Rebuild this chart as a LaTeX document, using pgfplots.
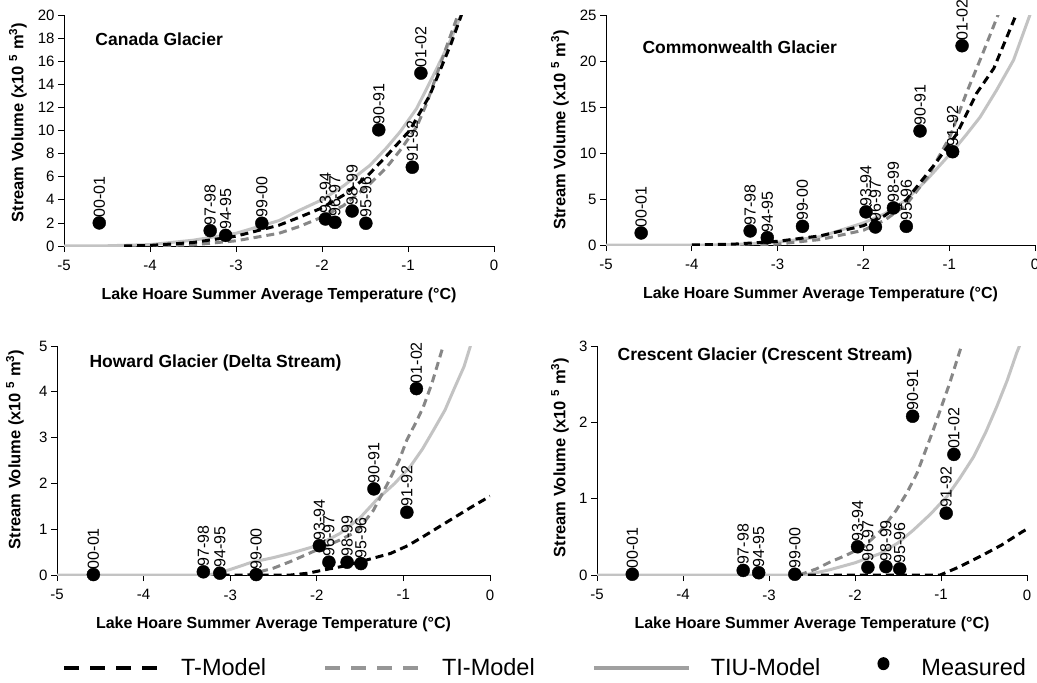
\documentclass[border=0pt]{standalone}
\usepackage{fontspec}
\setmainfont{Liberation Sans}
\usepackage{pgfplots}
\pgfplotsset{compat=1.18}

\definecolor{ticol}{RGB}{135,135,135}
\definecolor{tiucol}{RGB}{195,195,195}
\definecolor{legti}{RGB}{150,150,150}
\definecolor{legtiu}{RGB}{160,160,160}

\tikzset{gtitle/.style={anchor=west, font=\bfseries\fontsize{17.5bp}{20bp}\selectfont}}
\newcommand{\labfont}{\bfseries\fontsize{16bp}{18bp}\selectfont}
\newcommand{\ylabfont}{\bfseries\fontsize{16.5bp}{18bp}\selectfont}

\pgfplotsset{
 glacier/.style={
  scale only axis,
  axis x line*=bottom, axis y line*=left,
  axis line style={-, black, line width=0.8bp},
  xmin=-5, xmax=0, xtick={-5,-4,-3,-2,-1,0}, ymin=0,
  tick align=outside, major tick length=6bp,
  tick style={black, line width=0.8bp},
  /pgf/number format/assume math mode=true,
  ticklabel style={font=\fontsize{15bp}{17bp}\selectfont},
  xticklabel style={yshift=-5bp},
  xlabel={Lake Hoare Summer Average Temperature (°C)},
  ylabel={Stream Volume (x10 \textsuperscript{5} m\textsuperscript{3})},
  every axis x label/.style={at={(axis description cs:0.5,0)}, anchor=center, yshift=-49bp, font=\labfont},
  clip mode=individual,
 },
 ylab/.style 2 args={every axis y label/.style={at={(axis description cs:0,0.5)}, xshift=#1, yshift=#2, rotate=90, anchor=center, font=\ylabfont}},
 tmodel/.style={black, line width=3bp, dash pattern=on 8bp off 5bp},
 timodel/.style={ticol, line width=3bp, dash pattern=on 8bp off 5bp},
 tiumodel/.style={tiucol, line width=3bp},
 meas/.style={only marks, mark=*, mark size=6.5bp, black,
   nodes near coords, point meta=explicit symbolic,
   every node near coord/.append style={rotate=90, anchor=west, black,
     font=\fontsize{16bp}{18bp}\selectfont, inner sep=0.5bp, outer xsep=5bp}},
}

\begin{document}
\begin{tikzpicture}
\useasboundingbox (0bp,0bp) rectangle (1037bp,-683bp);

% ---------------- Canada Glacier ----------------
\begin{axis}[glacier, ylab={-46bp}{8bp},
  at={(64bp,-246bp)}, anchor=south west, width=430bp, height=231bp,
  ymax=20, ytick={0,2,...,20}]
\addplot[tiumodel] coordinates {(-5,0) (-4.5,0.02) (-4,0.12) (-3.5,0.5) (-3,1.1) (-2.5,2.2) (-2.26,3.1) (-2,4.0) (-1.75,5.2) (-1.44,7.0) (-1.25,8.5) (-1.09,9.9) (-0.9,11.9) (-0.71,14.7) (-0.5,17.9) (-0.36,20.4) (-0.25,22.5)};
\addplot[timodel] coordinates {(-4,0) (-3.5,0.1) (-3,0.45) (-2.5,1.1) (-2.26,1.7) (-2,2.5) (-1.75,3.5) (-1.44,5.4) (-1.25,6.8) (-1.09,8.3) (-0.9,10.3) (-0.78,12.4) (-0.55,17.3) (-0.4,20.4) (-0.3,23)};
\addplot[tmodel] coordinates {(-4.3,0) (-4,0.05) (-3.5,0.3) (-3,0.85) (-2.5,1.8) (-2.26,2.5) (-2,3.3) (-1.75,4.4) (-1.48,6.0) (-1.25,7.8) (-0.98,10.0) (-0.75,13.0) (-0.5,17.5) (-0.36,20.4) (-0.28,22.5)};
\addplot[meas] table[meta=lab] {
x y lab
-4.59 2.0 00-01
-3.30 1.33 97-98
-3.12 0.92 94-95
-2.70 1.97 99-00
-1.96 2.34 93-94
-1.85 2.05 96-97
-1.65 3.03 98-99
-1.49 1.97 95-96
-1.34 10.06 90-91
-0.95 6.82 91-92
-0.85 14.97 01-02
};
\node[gtitle] at (rel axis cs:0.065,0.896) {Canada Glacier};
\end{axis}

% ---------------- Commonwealth Glacier ----------------
\begin{axis}[glacier, ylab={-46bp}{0bp},
  at={(606bp,-245bp)}, anchor=south west, width=429bp, height=230bp,
  ymax=25, ytick={0,5,...,25}]
\addplot[tiumodel] coordinates {(-5,0) (-3.8,0) (-3.5,0.05) (-3,0.3) (-2.5,0.9) (-2.27,1.6) (-2,2.4) (-1.75,3.4) (-1.5,4.9) (-1.25,7.2) (-0.95,10.3) (-0.8,12.0) (-0.64,13.9) (-0.45,16.8) (-0.25,20.1) (-0.04,25.5)};
\addplot[timodel] coordinates {(-3.2,0) (-3,0.1) (-2.5,0.6) (-2,1.6) (-1.75,2.7) (-1.5,4.4) (-1.25,7.4) (-0.99,11.8) (-0.8,16.5) (-0.61,20.8) (-0.41,25.5)};
\addplot[tmodel] coordinates {(-4,0) (-3.5,0.1) (-3,0.4) (-2.5,1.0) (-2,2.1) (-1.75,3.2) (-1.5,4.9) (-1.38,6.3) (-1.15,9.0) (-0.91,12.1) (-0.68,16.5) (-0.48,19.2) (-0.27,23.9) (-0.2,25.5)};
\addplot[meas] table[meta=lab] {
x y lab
-4.59 1.31 00-01
-3.32 1.53 97-98
-3.12 0.80 94-95
-2.71 2.03 99-00
-1.97 3.60 93-94
-1.86 1.96 96-97
-1.65 4.03 98-99
-1.50 2.03 95-96
-1.34 12.4 90-91
-0.96 10.14 91-92
-0.85 21.66 01-02
};
\node[gtitle] at (rel axis cs:0.077,0.861) {Commonwealth Glacier};
\end{axis}

% ---------------- Howard Glacier ----------------
\begin{axis}[glacier, ylab={-42bp}{11bp},
  at={(57bp,-575bp)}, anchor=south west, width=433bp, height=229bp,
  ymax=5, ytick={0,1,...,5},
  legend columns=4,
  legend style={at={(axis description cs:0.0115,-0.402)}, anchor=west,
    draw=none, fill=none, inner sep=0pt, nodes={inner sep=0pt},
    font=\fontsize{23.5bp}{26bp}\selectfont,
    /tikz/every odd column/.append style={column sep=20bp},
    /tikz/every even column/.append style={column sep=57bp}},
  legend cell align=left]
\addlegendimage{legend image code/.code={\draw[black, line width=4bp, dash pattern=on 15bp off 11bp] (0bp,0bp) -- (95bp,0bp);}}
\addlegendentry{T-Model}
\addlegendimage{legend image code/.code={\draw[legti, line width=4bp, dash pattern=on 15bp off 11bp] (0bp,0bp) -- (95bp,0bp);}}
\addlegendentry{TI-Model}
\addlegendimage{legend image code/.code={\draw[legtiu, line width=4bp] (0bp,0bp) -- (95bp,0bp);}}
\addlegendentry{TIU-Model}
\addlegendimage{legend image code/.code={\path[draw=none] (0bp,0bp) -- (23bp,0bp); \fill[black, draw=none] (5bp,4bp) ellipse [x radius=6bp, y radius=6.5bp];}}
\addlegendentry{Measured}
\addplot[tiumodel, forget plot] coordinates {(-5,0) (-3.3,0) (-3.2,0.02) (-3,0.12) (-2.75,0.28) (-2.5,0.38) (-2.31,0.47) (-2,0.64) (-1.73,0.91) (-1.5,1.25) (-1.31,1.64) (-1.1,2.0) (-0.92,2.37) (-0.78,2.75) (-0.65,3.17) (-0.52,3.6) (-0.42,4.04) (-0.3,4.55) (-0.21,5.1)};
\addplot[timodel, forget plot] coordinates {(-2.8,0) (-2.5,0.15) (-2.31,0.29) (-1.96,0.58) (-1.75,0.75) (-1.54,0.95) (-1.35,1.4) (-1.19,1.97) (-1.05,2.5) (-0.96,2.95) (-0.85,3.35) (-0.77,3.67) (-0.67,4.19) (-0.52,5.13)};
\addplot[tmodel, forget plot] coordinates {(-3.1,0) (-2.3,0) (-2.1,0.04) (-1.92,0.11) (-1.7,0.19) (-1.5,0.29) (-1.15,0.47) (-0.95,0.64) (-0.77,0.84) (-0.46,1.2) (-0.2,1.5) (0,1.72)};
\addplot[meas, forget plot] table[meta=lab] {
x y lab
-4.58 0.01 00-01
-3.31 0.07 97-98
-3.12 0.04 94-95
-2.70 0.01 99-00
-1.97 0.64 93-94
-1.86 0.28 96-97
-1.65 0.28 98-99
-1.49 0.25 95-96
-1.34 1.88 90-91
-0.96 1.37 91-92
-0.85 4.07 01-02
};
\node[gtitle] at (rel axis cs:0.067,0.926) {Howard Glacier (Delta Stream)};
\end{axis}

% ---------------- Crescent Glacier ----------------
\begin{axis}[glacier, ylab={-37bp}{3bp},
  at={(597bp,-575bp)}, anchor=south west, width=430bp, height=229bp,
  ymax=3, ytick={0,1,2,3}]
\addplot[tiumodel] coordinates {(-5,0) (-2.6,0) (-2.45,0.03) (-2.29,0.07) (-2,0.16) (-1.71,0.28) (-1.5,0.42) (-1.32,0.59) (-1.12,0.8) (-0.93,1.03) (-0.78,1.27) (-0.62,1.55) (-0.48,1.87) (-0.35,2.21) (-0.23,2.55) (-0.12,2.91) (-0.07,3.05)};
\addplot[timodel] coordinates {(-2.65,0) (-2.45,0.08) (-2.29,0.17) (-2.1,0.26) (-1.9,0.37) (-1.7,0.58) (-1.52,0.85) (-1.4,1.07) (-1.28,1.33) (-1.09,1.90) (-0.9,2.51) (-0.74,3.08)};
\addplot[tmodel] coordinates {(-2.7,0) (-1.01,0) (-0.8,0.1) (-0.55,0.24) (-0.3,0.39) (-0.05,0.57) (0,0.6)};
\addplot[meas] table[meta=lab] {
x y lab
-4.59 0.01 00-01
-3.30 0.06 97-98
-3.12 0.03 94-95
-2.70 0.01 99-00
-1.97 0.37 93-94
-1.85 0.10 96-97
-1.64 0.11 98-99
-1.48 0.08 95-96
-1.33 2.08 90-91
-0.94 0.81 91-92
-0.85 1.58 01-02
};
\node[gtitle] at (rel axis cs:0.040,0.956) {Crescent Glacier (Crescent Stream)};
\end{axis}
\end{tikzpicture}
\end{document}
